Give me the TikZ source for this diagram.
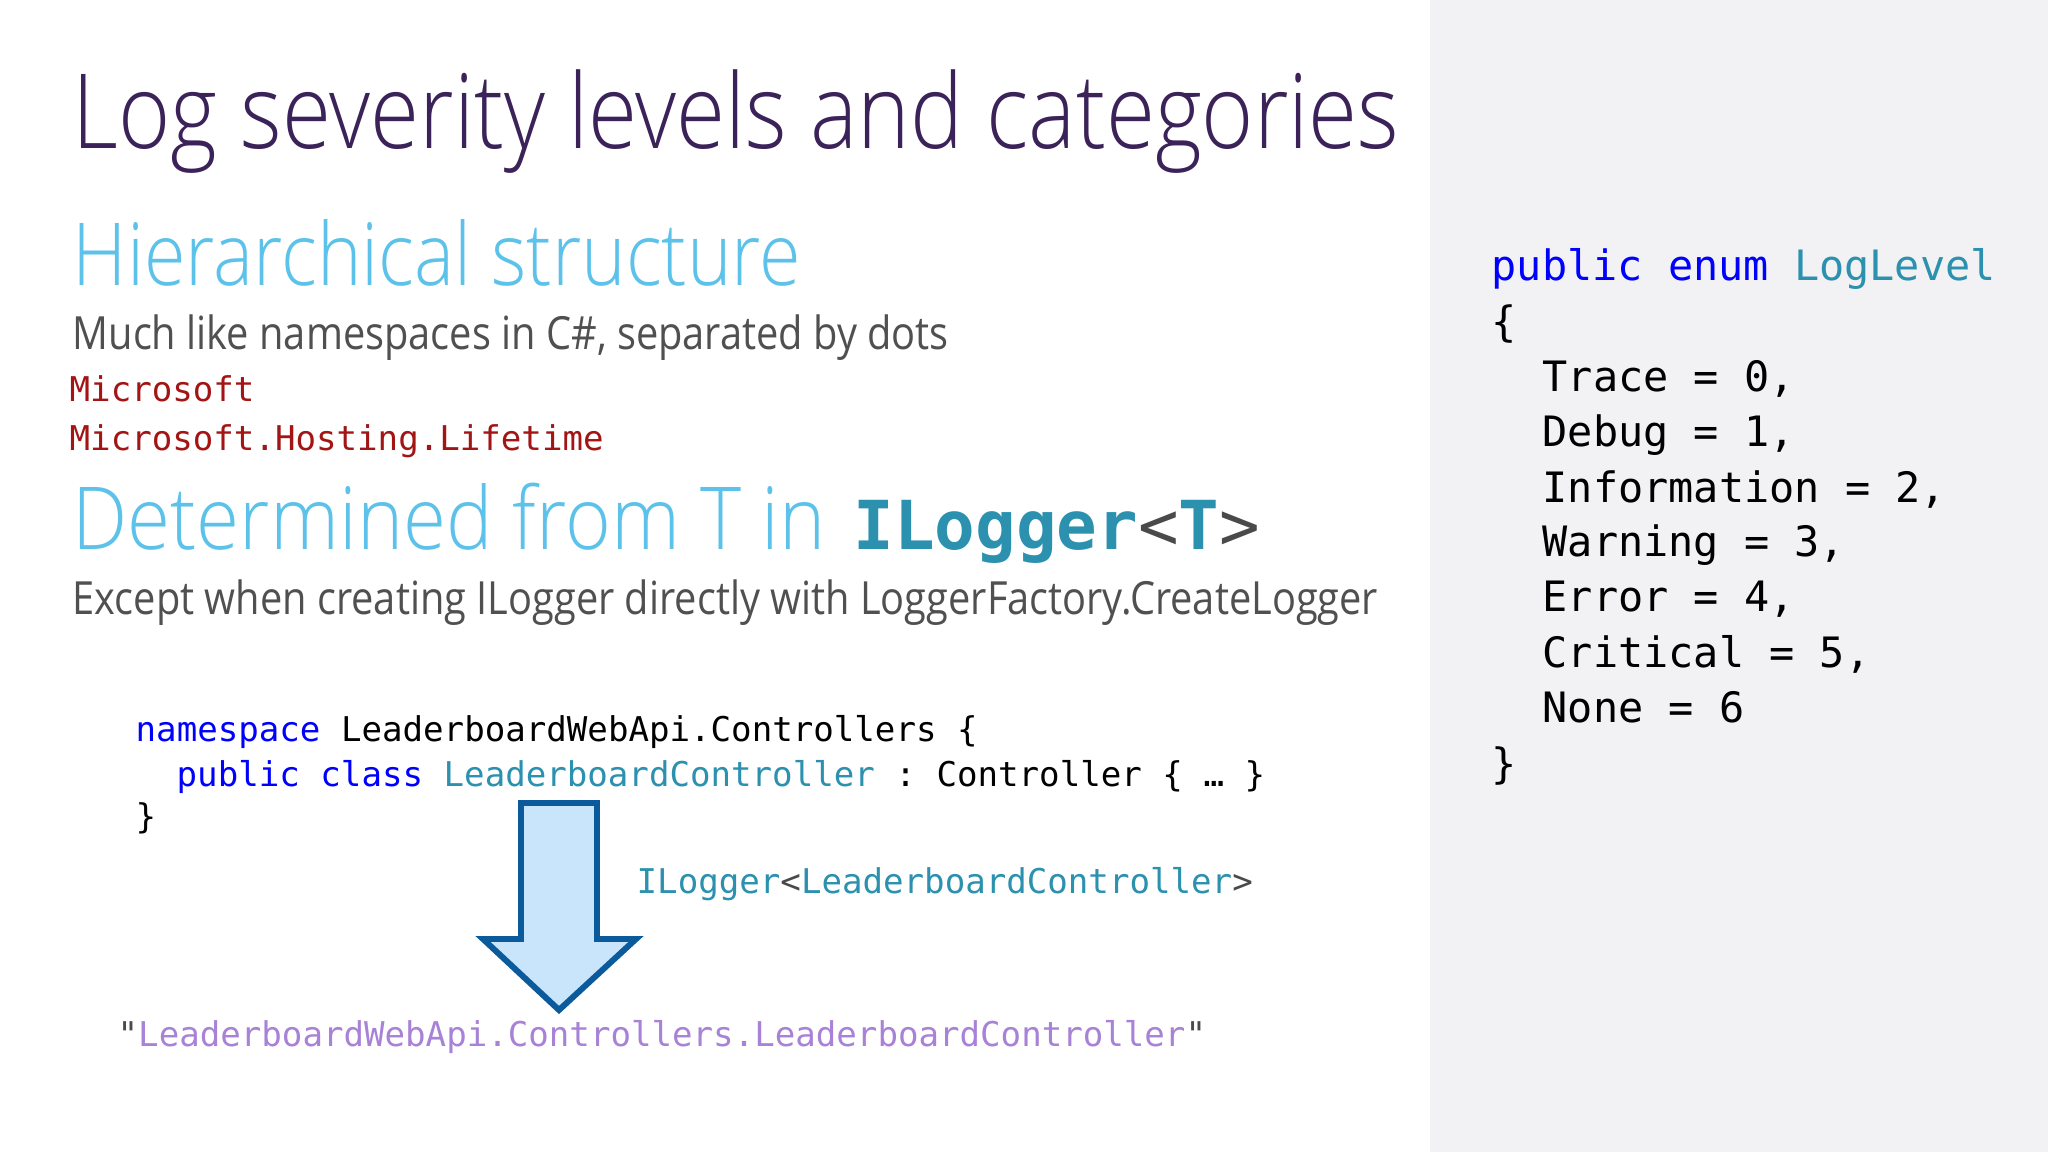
\documentclass[tikz,border=0pt]{standalone}
\usepackage{fontspec}
\setmainfont{Open Sans}[FakeStretch=0.87]
\newfontfamily\lightfont{Open Sans}[UprightFont={* Light}, FakeStretch=0.87]
\newfontfamily\titlefont{Open Sans}[UprightFont={* Light}, FakeStretch=0.86]
\newfontfamily\determfont{Open Sans}[UprightFont={* Light}, FakeStretch=0.9]
\setmonofont{DejaVu Sans Mono}
\usepackage{tikz}
\definecolor{titlecol}{HTML}{3B2259}
\definecolor{headcol}{HTML}{5DC2EA}
\definecolor{bodycol}{HTML}{505050}
\definecolor{strcol}{HTML}{A31515}
\definecolor{kwcol}{HTML}{0000FF}
\definecolor{typecol}{HTML}{2B91AF}
\definecolor{litcol}{HTML}{A882D6}
\definecolor{punctcol}{HTML}{4A4A4A}
\definecolor{panelcol}{HTML}{F2F2F4}
\definecolor{arrowfill}{HTML}{C9E5FB}
\definecolor{arrowline}{HTML}{0B5A9C}

\begin{document}
\begin{tikzpicture}[x=0.01cm, y=-0.01cm]
            \tikzstyle{txt} = [anchor=base west, inner sep=0pt];
            \tikzstyle{heading} = [txt, headcol, font=\lightfont\fontsize{24.7}{30}\selectfont];
            \tikzstyle{body} = [txt, bodycol, font=\fontsize{13}{16}\selectfont];
            \tikzstyle{code} = [txt, black, font=\ttfamily\fontsize{9.7}{12}\selectfont];
            \tikzstyle{enumcode} = [txt, black, font=\ttfamily\fontsize{11.9}{14}\selectfont];
            \fill[white] (0,0) rectangle (2048,1152);
            \fill[panelcol] (1430,0) rectangle (2048,1152);
            \node[txt, titlecol, font=\titlefont\fontsize{29.5}{34}\selectfont] (title) at (72,149) {Log severity levels and categories};
            \node[heading] (hier) at (72,286) {Hierarchical structure};
            \node[body] (dots) at (72,350) {Much like namespaces in C\#, separated by dots};
            \node[code, strcol] (ms) at (69,402) {Microsoft};
            \node[code, strcol] (mshl) at (69,451) {Microsoft.Hosting.Lifetime};
            \node[heading, font=\determfont\fontsize{24.7}{30}\selectfont] (determ) at (72,550) {Determined from T in\hspace{0.08cm} {\ttfamily\bfseries\fontsize{19.2}{24}\selectfont\textcolor{typecol}{ILogger}\textcolor{punctcol}{\mdseries<}\textcolor{typecol}{T}\textcolor{punctcol}{\mdseries>}}};
            \node[body] (except) at (72,614) {Except when creating ILogger directly with LoggerFactory.CreateLogger};
            \node[code] (ns) at (135,741) {\textcolor{kwcol}{namespace} LeaderboardWebApi.Controllers \{};
            \node[code] (cls) at (176,786) {\textcolor{kwcol}{public class} \textcolor{typecol}{LeaderboardController} : Controller \{ … \}};
            \node[code] (nsend) at (135,828) {\}};
            \draw[arrowline, fill=arrowfill, line width=1.7pt, miter limit=4] (521,803) -- (597,803) -- (597,939) -- (636,939) -- (559,1010) -- (483,939) -- (521,939) -- cycle;
            \node[code, typecol] (ilog) at (636,893) {ILogger\textcolor{punctcol}{<}LeaderboardController\textcolor{punctcol}{>}};
            \node[code, litcol] (catname) at (117,1046) {\textcolor{punctcol}{"}LeaderboardWebApi.Controllers.LeaderboardController\textcolor{punctcol}{"}};
            \node[enumcode] (enum) at (1491,281) {\textcolor{kwcol}{public enum} \textcolor{typecol}{LogLevel}};
            \node[enumcode] (open) at (1491,337) {\{};
            \foreach \l [count=\y] in {{Trace = 0,}, {Debug = 1,}, {Information = 2,}, {Warning = 3,}, {Error = 4,}, {Critical = 5,}, {None = 6}}
            {\node[enumcode] (lvl\y) at (1542,337+55*\y) {\l};}
            \node[enumcode] (close) at (1491,778) {\}};
\end{tikzpicture}
\end{document}
